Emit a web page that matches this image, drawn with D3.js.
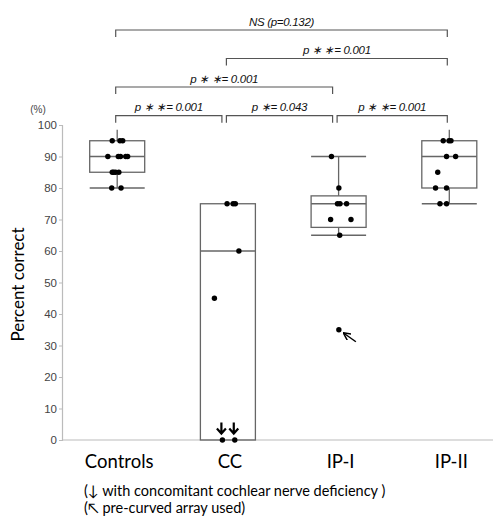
<!DOCTYPE html>
<html>
<head>
<meta charset="utf-8">
<script src="https://cdn.jsdelivr.net/npm/d3@7"></script>
<style>
  html, body { margin: 0; padding: 0; background: #fff; }
  svg { display: block; }
</style>
</head>
<body>
<svg id="chart" width="493" height="521"></svg>
<script>
// ---------- data ----------
const categories = ["Controls", "CC", "IP-I", "IP-II"];
const q1 = [85, 0, 67.5, 80];
const medians = [90, 60, 75, 90];
const q3 = [95, 75, 77.5, 95];
const whiskerLow = [80, null, 65, 75];
const whiskerHigh = [98.5, null, 90, 98.5];

const controlsScores = [95, 95, 95, 90, 90, 90, 90, 90, 85, 85, 85, 85, 80, 80];
const controlsJitter = [-0.09, 0.05, 0.10, -0.17, 0.02, 0.06, 0.155, 0.19, -0.09, -0.065, -0.03, 0.03, -0.10, 0.07];
const ccScores = [75, 75, 75, 60, 45, 0, 0];
const ccJitter = [-0.015, 0.095, 0.135, 0.20, -0.245, -0.10, 0.125];
const ccNerveDeficiency = [false, false, false, false, false, true, true];
const ip1Scores = [90, 80, 75, 75, 75, 70, 70, 65, 35];
const ip1Jitter = [-0.13, 0.005, -0.02, 0.025, 0.145, -0.145, 0.225, 0.02, 0.005];
const ip1PreCurved = [false, false, false, false, false, false, false, false, true];
const ip2Scores = [95, 95, 95, 90, 90, 85, 80, 80, 75, 75];
const ip2Jitter = [-0.11, -0.005, 0.03, -0.05, 0.115, -0.21, -0.25, -0.05, -0.17, -0.05];

const yTicks = [0, 10, 20, 30, 40, 50, 60, 70, 80, 90, 100];

const comparisons = [
  { a: "Controls", b: "CC", level: 0, label: "p ∗ ∗= 0.001" },
  { a: "CC", b: "IP-I", level: 0, label: "p ∗= 0.043" },
  { a: "IP-I", b: "IP-II", level: 0, label: "p ∗ ∗= 0.001" },
  { a: "Controls", b: "IP-I", level: 1, label: "p ∗ ∗= 0.001" },
  { a: "CC", b: "IP-II", level: 2, label: "p ∗ ∗= 0.001" },
  { a: "Controls", b: "IP-II", level: 3, label: "NS (p=0.132)" }
];

const footnotes = ["(↓ with concomitant cochlear nerve deficiency )", "(↖ pre-curved array used)"];

// ---------- layout ----------
const svg = d3.select("#chart");
const plotLeft = 62, plotRight = 493, plotTop = 125, plotBottom = 440;

const x = d3.scalePoint().domain(categories).range([117.2, 449.3]);
const boxW = 55;
const y = d3.scaleLinear().domain([0, 100]).range([plotBottom, plotTop]);

const groups = categories.map((c, i) => {
  const scores = [controlsScores, ccScores, ip1Scores, ip2Scores][i];
  const jit = [controlsJitter, ccJitter, ip1Jitter, ip2Jitter][i];
  return {
    cat: c, q1: q1[i], med: medians[i], q3: q3[i],
    lo: whiskerLow[i], hi: whiskerHigh[i],
    points: scores.map((v, k) => ({ v, j: jit[k], k }))
  };
});

const grey = "#666";

// y axis
const yAxis = svg.append("g")
  .attr("transform", `translate(${plotLeft},0)`)
  .call(d3.axisLeft(y).tickValues(yTicks).tickSize(3).tickPadding(2));
yAxis.select(".domain").attr("stroke", "#bbb").attr("stroke-width", 1.2);
yAxis.selectAll(".tick line").attr("stroke", "#bbb");
yAxis.selectAll(".tick text")
  .attr("font-family", "Liberation Sans, Arial, sans-serif")
  .attr("font-size", 11.5)
  .attr("fill", "#444");

// x axis baseline
svg.append("line")
  .attr("x1", plotLeft).attr("x2", plotRight)
  .attr("y1", y(0)).attr("y2", y(0))
  .attr("stroke", "#bbb").attr("stroke-width", 1.2);

// (%) unit
svg.append("text")
  .attr("x", 38).attr("y", 113)
  .attr("text-anchor", "middle")
  .attr("font-family", "Liberation Sans, Arial, sans-serif")
  .attr("font-size", 10)
  .attr("fill", "#444")
  .text("(%)");

// y axis title
svg.append("text")
  .attr("transform", `translate(24,${(y(0) + y(100)) / 2 + 2}) rotate(-90)`)
  .attr("text-anchor", "middle")
  .attr("font-family", "Lato, 'Open Sans', sans-serif")
  .attr("font-size", 17)
  .attr("fill", "#000")
  .text("Percent correct");

// category labels
svg.append("g").selectAll("text")
  .data(categories)
  .join("text")
  .attr("x", d => x(d) + 2)
  .attr("y", 468)
  .attr("text-anchor", "middle")
  .attr("font-family", "Lato, 'Open Sans', sans-serif")
  .attr("font-size", 18.5)
  .attr("fill", "#000")
  .text(d => d);

// boxes
const bg = svg.append("g").selectAll("g").data(groups).join("g");

bg.each(function (d) {
  const g = d3.select(this);
  const cx = x(d.cat);
  const vals = d.points.map(p => p.v);
  if (d.hi != null) {
    g.append("line").attr("x1", cx).attr("x2", cx)
      .attr("y1", y(d.q3)).attr("y2", y(d.hi))
      .attr("stroke", grey).attr("stroke-width", 1.3);
    if (vals.includes(d.hi)) {
      g.append("line").attr("x1", cx - boxW / 2).attr("x2", cx + boxW / 2)
        .attr("y1", y(d.hi)).attr("y2", y(d.hi))
        .attr("stroke", grey).attr("stroke-width", 1.3);
    }
  }
  if (d.lo != null) {
    g.append("line").attr("x1", cx).attr("x2", cx)
      .attr("y1", y(d.q1)).attr("y2", y(d.lo))
      .attr("stroke", grey).attr("stroke-width", 1.3);
    if (vals.includes(d.lo)) {
      g.append("line").attr("x1", cx - boxW / 2).attr("x2", cx + boxW / 2)
        .attr("y1", y(d.lo)).attr("y2", y(d.lo))
        .attr("stroke", grey).attr("stroke-width", 1.3);
    }
  }
  g.append("rect")
    .attr("x", cx - boxW / 2).attr("width", boxW)
    .attr("y", y(d.q3)).attr("height", y(d.q1) - y(d.q3))
    .attr("fill", "none").attr("stroke", grey).attr("stroke-width", 1.3);
  g.append("line").attr("x1", cx - boxW / 2).attr("x2", cx + boxW / 2)
    .attr("y1", y(d.med)).attr("y2", y(d.med))
    .attr("stroke", grey).attr("stroke-width", 1.3);
  g.selectAll("circle").data(d.points).join("circle")
    .attr("cx", p => cx + p.j * boxW)
    .attr("cy", p => y(p.v))
    .attr("r", 2.7)
    .attr("fill", "#000");
});

// CC nerve-deficiency arrows (bold down arrows above the points)
svg.append("g").selectAll("path")
  .data(ccScores.map((v, k) => ({ v, j: ccJitter[k], f: ccNerveDeficiency[k] })).filter(d => d.f))
  .join("path")
  .attr("d", d => {
    const ax = x("CC") + d.j * boxW - 1, ay = y(d.v) - 6.5;
    return `M${ax},${ay - 11}V${ay}M${ax - 4.5},${ay - 5}L${ax},${ay}L${ax + 4.5},${ay - 5}`;
  })
  .attr("fill", "none")
  .attr("stroke", "#000")
  .attr("stroke-width", 2.2);

// IP-I pre-curved arrow
svg.append("defs").append("marker")
  .attr("id", "ah").attr("viewBox", "0 0 10 10")
  .attr("refX", 9).attr("refY", 5)
  .attr("markerWidth", 5).attr("markerHeight", 5)
  .attr("orient", "auto-start-reverse")
  .append("path").attr("d", "M0,0 L10,5 L0,10").attr("fill", "none")
  .attr("stroke", "#000").attr("stroke-width", 2);

ip1Scores.forEach((v, k) => {
  if (!ip1PreCurved[k]) return;
  const px = x("IP-I") + ip1Jitter[k] * boxW, py = y(v);
  svg.append("line")
    .attr("x1", px + 17).attr("y1", py + 12)
    .attr("x2", px + 5).attr("y2", py + 3.5)
    .attr("stroke", "#000").attr("stroke-width", 1.5)
    .attr("marker-end", "url(#ah)");
});

// significance brackets
const levelY = [115.7, 87, 58.5, 30];
const lastCat = categories[categories.length - 1];
const br = svg.append("g").selectAll("g").data(comparisons).join("g");
br.each(function (d) {
  const g = d3.select(this);
  const x1 = x(d.a) - 1.5;
  const x2 = x(d.b) - (d.b === lastCat ? 2 : 6);
  const yy = levelY[d.level];
  g.append("path")
    .attr("d", `M${x1},${yy + 7}V${yy}H${x2}V${yy + 7}`)
    .attr("fill", "none").attr("stroke", "#555").attr("stroke-width", 1.2);
  g.append("text")
    .attr("x", (x1 + x2) / 2).attr("y", yy - 4.5)
    .attr("text-anchor", "middle")
    .attr("font-family", "Liberation Sans, Arial, sans-serif")
    .attr("font-style", "italic")
    .attr("font-size", 11.5)
    .attr("letter-spacing", -0.3)
    .attr("fill", "#111")
    .text(d.label);
});

// footnotes
svg.append("g").selectAll("text").data(footnotes).join("text")
  .attr("x", 84)
  .attr("y", (d, i) => 496 + i * 17)
  .attr("font-family", "Lato, 'Open Sans', sans-serif")
  .attr("font-size", 14.5)
  .attr("fill", "#000")
  .text(d => d);
</script>
</body>
</html>
